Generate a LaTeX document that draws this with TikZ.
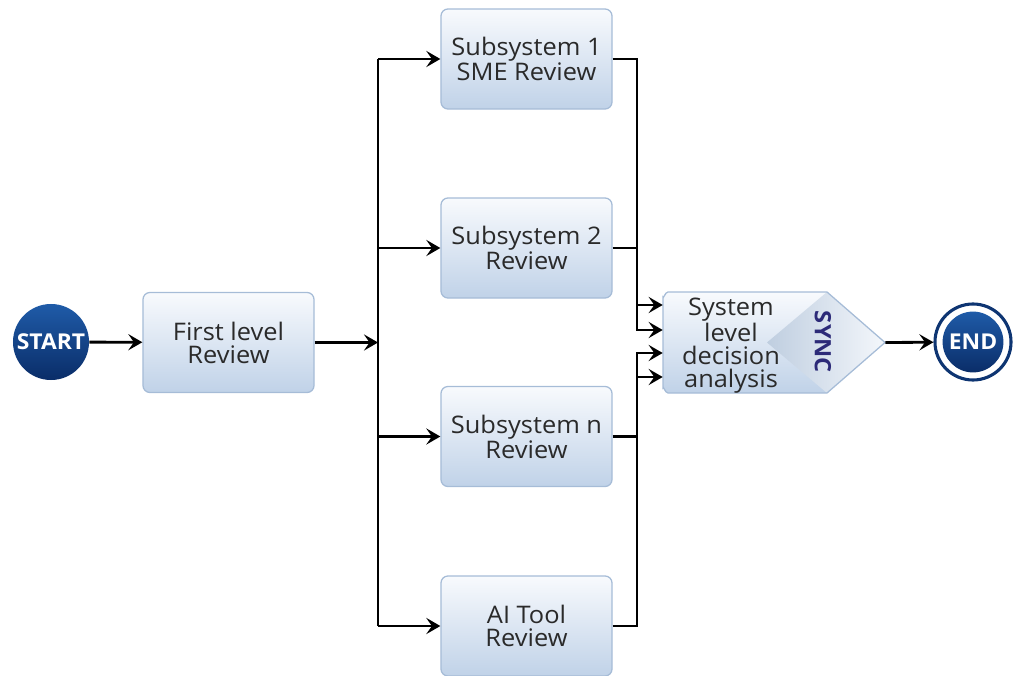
\documentclass[tikz,border=0pt]{standalone}
\usepackage{fontspec}
\setmainfont{Open Sans}[FakeStretch=1.05]
\usetikzlibrary{arrows.meta,calc}

\definecolor{boxtop}{HTML}{F8FAFD}
\definecolor{boxbot}{HTML}{C0D2E8}
\definecolor{boxline}{HTML}{A6BCD7}
\definecolor{txt}{HTML}{2A2A2A}
\definecolor{navytop}{HTML}{1F5BA8}
\definecolor{navybot}{HTML}{0A2D68}
\definecolor{navyring}{HTML}{0E3572}
\definecolor{diadark}{HTML}{BFCEE0}
\definecolor{dialight}{HTML}{F4F7FB}
\definecolor{synctxt}{HTML}{2C2A78}

\tikzset{
  task/.style={draw=boxline, line width=0.9pt, rounded corners=5pt,
    top color=boxtop, bottom color=boxbot,
    minimum width=4.275cm, minimum height=2.5cm, inner sep=0pt,
    align=center, text=txt, font=\fontsize{17.2}{16.4}\selectfont},
  event/.style={circle, inner sep=0pt, text=white,
    top color=navytop, bottom color=navybot,
    font=\bfseries\fontsize{15.5}{15.5}\selectfont},
  flow/.style={line width=2pt, draw=black,
    -{Stealth[length=10pt, width=11.5pt, inset=4pt]}},
  wire/.style={line width=2pt, draw=black},
}

\begin{document}
\begin{tikzpicture}[x=0.025cm, y=-0.025cm]
\useasboundingbox (0,0) rectangle (1013,676);

% events
\node[event, minimum size=1.9cm] (start) at (51,342) {START};
\node[circle, minimum size=1.9cm, draw=navyring, line width=2.2pt, fill=white] (end) at (973,342) {};
\node[event, minimum size=1.52cm] (endcore) at (end) {END};

% tasks
\node[task] (first) at (228.5,342.5) {First level\\Review};
\node[task] (sub1) at (526.5,59)  {Subsystem 1\\SME Review};
\node[task] (sub2) at (526.5,248) {Subsystem 2\\Review};
\node[task] (subn) at (526.5,436.5) {Subsystem n\\Review};
\node[task] (ai)   at (526.5,626) {AI Tool\\Review};

% synchronisation gateway
\node[minimum width=5.55cm, minimum height=2.525cm, inner sep=0pt] (sync) at (774,342.5) {};
\path[top color=boxtop, bottom color=boxbot]
  (885,342.5) -- (827,393) -- (668,393) to[out=180,in=90] (663,388)
  -- (663,297) to[out=-90,in=180] (668,292) -- (827,292) -- cycle;
\path[left color=diadark, right color=dialight]
  (767,342.5) -- (827,292) -- (885,342.5) -- (827,393) -- cycle;
\draw[boxline, line width=0.9pt]
  (885,342.5) -- (827,393) -- (668,393) to[out=180,in=90] (663,388)
  -- (663,297) to[out=-90,in=180] (668,292) -- (827,292) -- cycle;
\node[align=center, text=txt, font=\fontsize{17.2}{16.4}\selectfont] (synclabel) at (731,346)
  {System\\level\\decision\\analysis};
\node[rotate=-90, text=synctxt, font=\bfseries\fontsize{16}{16}\selectfont] (synctag) at (823,342) {SYNC};

% split after the first review
\coordinate (split) at (378,342.5);
\draw[flow] (start) -- (first);
\draw[flow] (first) -- (split);
\draw[wire] (split |- sub1) -- (split |- ai);
\foreach \t in {sub1,sub2,subn,ai}
  \draw[flow] (split |- \t) -- (\t);

% merge into the gateway
\coordinate (m1) at (637,305);
\coordinate (m2) at (637,330);
\coordinate (m3) at (637,353);
\coordinate (m4) at (637,377);
\draw[flow] (sub1.east) -| (m1) -- (m1 -| sync.west);
\draw[flow] (sub2.east) -| (m2) -- (m2 -| sync.west);
\draw[flow] (subn.east) -| (m3) -- (m3 -| sync.west);
\draw[flow] (ai.east) -| (m4) -- (m4 -| sync.west);

\draw[flow] (sync.east) -- (end);
\end{tikzpicture}
\end{document}
